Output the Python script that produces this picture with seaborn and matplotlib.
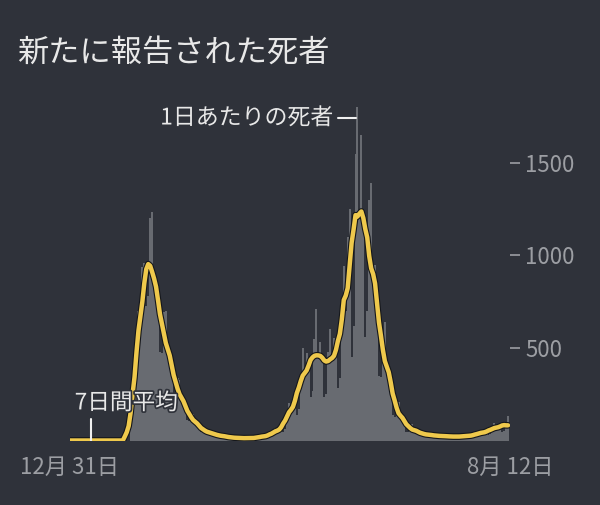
import numpy as np
import pandas as pd
import matplotlib
matplotlib.use("Agg")
import matplotlib.pyplot as plt
import matplotlib.patheffects as pe
import seaborn as sns

# daily reported deaths, day 0 = Dec 31
daily_deaths = [
    0, 0, 0, 0, 0, 0, 0, 0, 0, 0, 0, 0, 0, 0, 0, 0,
    0, 0, 0, 0, 0, 0, 0, 0, 0, 0, 0, 0, 0, 0, 0,
    150, 161, 240, 504, 702, 646, 935, 960, 728, 780, 1200, 1235, 836, 869, 730,
    476, 473, 696, 702, 466, 484, 390, 245, 233, 336, 325, 214, 220, 180, 112,
    105, 150, 143, 92, 95, 76, 47, 44, 62, 61, 41, 43, 36, 23, 23,
    34, 34, 23, 24, 20, 13, 13, 19, 20, 13, 15, 13, 9, 9, 14,
    17, 12, 16, 14, 8, 9, 20,
    28, 22, 30, 29, 17, 20, 45,
    65, 52, 72, 74, 46, 60, 136,
    203, 165, 228, 231, 140, 171, 362,
    500, 370, 474, 438, 237, 270, 546,
    709, 470, 534, 457, 234, 251, 477,
    605, 430, 552, 520, 284, 336, 702,
    943, 700, 1100, 1250, 450, 620, 1550,
    1805, 1200, 1650, 1200, 560, 700, 1300,
    1392, 880, 948, 735, 347, 342, 575,
    638, 380, 408, 315, 140, 126, 196,
    210, 125, 132, 102, 47, 45, 76,
    87, 54, 59, 47, 23, 23, 40,
    48, 31, 36, 30, 15, 16, 30,
    36, 24, 29, 24, 13, 13, 25,
    30, 21, 25, 22, 12, 13, 26,
    35, 25, 32, 30, 17, 20, 43,
    58, 43, 55, 51, 29, 34, 71,
    96, 70, 89, 82, 45, 51, 101,
    131,
]
y_ticks = [500, 1000, 1500]
x_tick_pos = [0, 225]
x_tick_labels = ["12月 31日", "8月 12日"]
title = "新たに報告された死者"
label_daily = "1日あたりの死者"
label_avg = "7日間平均"

BG = "#2f323a"
BAR = "#686b71"
YELLOW = "#efc94c"
TICK = "#9c9ea3"
TEXT = "#e8e8e8"

day = np.arange(len(daily_deaths))
avg7 = pd.Series(daily_deaths).rolling(7, center=True, min_periods=1).mean()

sns.set_style("dark", {"axes.facecolor": BG, "figure.facecolor": BG})
plt.rcParams["font.family"] = ["Noto Sans CJK JP", "DejaVu Sans"]

fig = plt.figure(figsize=(6, 5.05), dpi=100)
ax = fig.add_axes([70 / 600, 1 - 440.5 / 505, 440 / 600, 342.3 / 505])
ax.set_facecolor(BG)

sns.barplot(x=day, y=daily_deaths, native_scale=True, color=BAR, saturation=1,
            width=1.0, linewidth=0, ax=ax)
sns.lineplot(x=day, y=avg7, color=YELLOW, linewidth=3.2, ax=ax)
ax.lines[-1].set_path_effects([pe.Stroke(linewidth=4.8, foreground="#15171b"), pe.Normal()])

ax.set_xlim(0, 225)
ax.set_ylim(0, 1850)
for s in ax.spines.values():
    s.set_visible(False)
ax.grid(False)

ax.yaxis.tick_right()
ax.set_yticks(y_ticks)
ax.set_yticklabels([str(v) for v in y_ticks])
ax.tick_params(axis="y", length=7, width=1.2, color=TICK, pad=4, labelsize=16, labelcolor=TICK)
ax.set_xticks(x_tick_pos)
ax.set_xticklabels(x_tick_labels)
ax.tick_params(axis="x", length=8, width=1.2, color=TICK, pad=3, labelsize=16, labelcolor=TICK)
ax.set_xlabel("")
ax.set_ylabel("")

halo = [pe.withStroke(linewidth=2.5, foreground=BG)]
fig.text(17 / 600, 1 - 53 / 505, title, fontsize=22.5, color=TEXT, va="center", ha="left")

ax.text(134.5, 1743, label_daily, fontsize=16.5, color=TEXT, ha="right", va="center",
        path_effects=halo)
ax.plot([137, 146.5], [1743, 1743], color="#f0f0f0", linewidth=1.5, clip_on=False)

ax.text(2.4, 203, label_avg, fontsize=16.3, color=TEXT, ha="left", va="center",
        path_effects=halo)
ax.plot([10.7, 10.7], [0, 116], color="#f0f0f0", linewidth=1.5)

fig.savefig("out.png", dpi=100, facecolor=BG)
